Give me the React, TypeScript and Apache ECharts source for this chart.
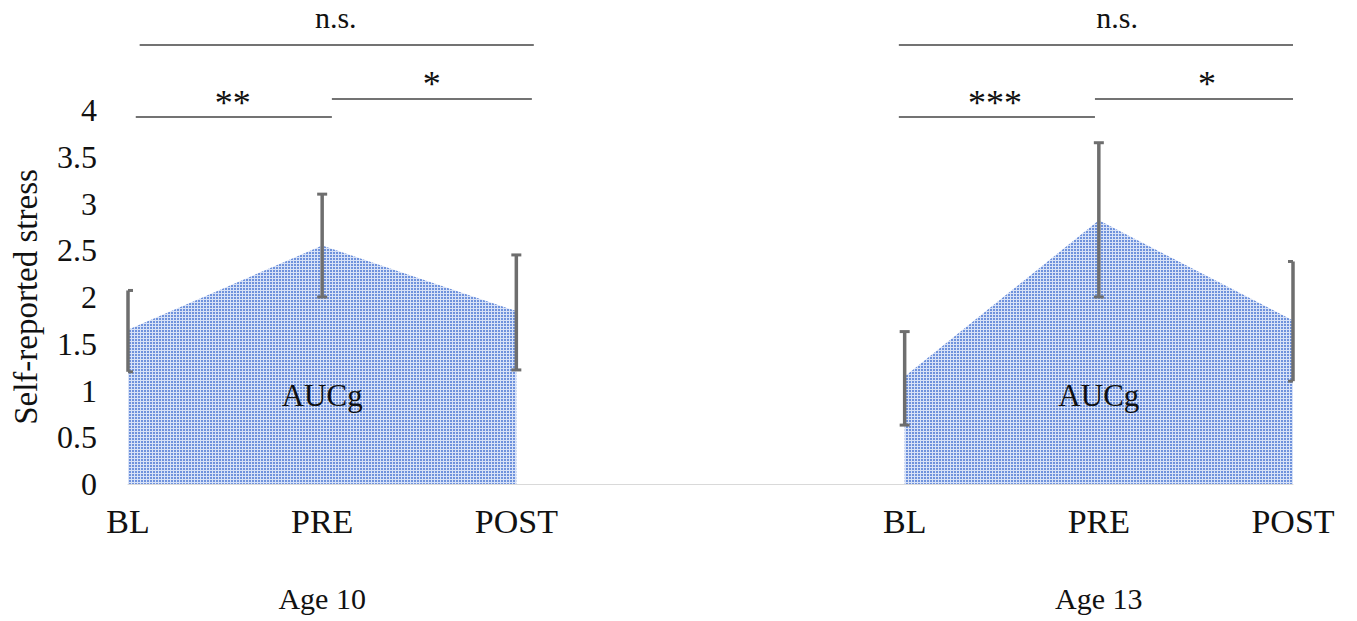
import React, { useEffect, useRef } from 'react';
import * as echarts from 'echarts';

// ---- data ----
const timepointLabels = ['BL', 'PRE', 'POST', '', 'BL', 'PRE', 'POST'];
const groupLabels = ['', 'Age 10', '', '', '', 'Age 13', ''];

const age10X = [0, 1, 2];
const age10Mean = [1.65, 2.55, 1.85];
const age10Low = [1.2, 2.0, 1.22];
const age10High = [2.07, 3.1, 2.45];

const age13X = [4, 5, 6];
const age13Mean = [1.15, 2.82, 1.75];
const age13Low = [0.63, 2.0, 1.1];
const age13High = [1.63, 3.65, 2.38];

const aucLabelX = [1, 5];
const aucLabelY = [0.95, 0.95];

// significance brackets
const bracketStart = [0.06, 0.04, 1.05, 3.97, 3.97, 4.98];
const bracketEnd = [2.09, 1.05, 2.08, 6.0, 4.98, 6.0];
const bracketLevel = [4.695, 3.925, 4.118, 4.695, 3.925, 4.118];
const bracketLabel = ['n.s.', '**', '*', 'n.s.', '***', '*'];
const bracketLabelX = [1.07, 0.54, 1.565, 5.094, 4.465, 5.557];
const bracketLabelY = [4.985, 4.08, 4.28, 4.985, 4.08, 4.28];

const Y_MIN = 0;
const Y_MAX = 4;
const Y_STEP = 0.5;
const X_MIN = 0;
const X_MAX = 6;

const SERIF = '"Liberation Serif", "Times New Roman", serif';

function makePattern(): any {
  try {
    const c = document.createElement('canvas');
    c.width = 3;
    c.height = 3;
    const ctx = c.getContext('2d');
    if (!ctx) return '#a9c0ec';
    ctx.fillStyle = '#d8e2f7';
    ctx.fillRect(0, 0, 3, 3);
    ctx.fillStyle = '#6f92dc';
    ctx.fillRect(0, 0, 2, 2);
    return { image: c.toDataURL(), repeat: 'repeat', imageWidth: 3, imageHeight: 3 };
  } catch (e) {
    return '#a9c0ec';
  }
}

export default function App() {
  const ref = useRef<HTMLDivElement>(null);

  useEffect(() => {
    if (!ref.current) return;
    const chart = echarts.init(ref.current, null, { renderer: 'svg' });
    const fill = makePattern();

    const errData = [
      ...age10X.map((x, i) => [x, age10Low[i], age10High[i]]),
      ...age13X.map((x, i) => [x, age13Low[i], age13High[i]]),
    ];
    const bracketData = bracketStart.map((s, i) => [
      s,
      bracketEnd[i],
      bracketLevel[i],
      bracketLabelX[i],
      bracketLabelY[i],
    ]);

    const areaSeries = (data: number[][]) => ({
      type: 'line',
      data,
      showSymbol: false,
      symbol: 'none',
      lineStyle: { width: 0 },
      areaStyle: { color: fill, opacity: 1 },
      z: 2,
      silent: true,
    });

    chart.setOption({
      animation: false,
      grid: { left: 128, right: 64, top: 110, bottom: 137 },
      xAxis: [
        {
          type: 'value',
          min: X_MIN,
          max: X_MAX,
          interval: 1,
          splitLine: { show: false },
          axisTick: { show: false },
          axisLine: { show: true, lineStyle: { color: '#d9d9d9', width: 1 } },
          axisLabel: {
            margin: 20,
            fontFamily: SERIF,
            fontSize: 34,
            color: '#111',
            formatter: (v: number) => timepointLabels[Math.round(v)] ?? '',
          },
        },
        {
          type: 'value',
          min: X_MIN,
          max: X_MAX,
          interval: 1,
          position: 'bottom',
          splitLine: { show: false },
          axisTick: { show: false },
          axisLine: { show: false },
          axisLabel: {
            margin: 99,
            fontFamily: SERIF,
            fontSize: 30,
            color: '#111',
            formatter: (v: number) => groupLabels[Math.round(v)] ?? '',
          },
        },
      ],
      yAxis: {
        type: 'value',
        min: Y_MIN,
        max: Y_MAX,
        interval: Y_STEP,
        name: 'Self-reported stress',
        nameLocation: 'middle',
        nameGap: 86,
        nameTextStyle: { fontFamily: SERIF, fontSize: 33, color: '#111' },
        splitLine: { show: false },
        axisTick: { show: false },
        axisLine: { show: false },
        axisLabel: {
          margin: 31,
          fontFamily: SERIF,
          fontSize: 32,
          color: '#111',
        },
      },
      series: [
        areaSeries(age10X.map((x, i) => [x, age10Mean[i]])),
        areaSeries(age13X.map((x, i) => [x, age13Mean[i]])),
        {
          type: 'custom',
          data: errData,
          z: 5,
          silent: true,
          renderItem: (params: any, api: any) => {
            const x = api.value(0);
            const top = api.coord([x, api.value(2)]);
            const bot = api.coord([x, api.value(1)]);
            const cap = 5;
            const left = x > X_MIN ? cap : 0;
            const right = x < X_MAX ? cap : 0;
            const st = { stroke: '#6e6e6e', lineWidth: 3.5 };
            const capSt = { stroke: '#6e6e6e', lineWidth: 3 };
            return {
              type: 'group',
              children: [
                { type: 'line', shape: { x1: top[0], y1: top[1], x2: bot[0], y2: bot[1] }, style: st },
                { type: 'line', shape: { x1: top[0] - left, y1: top[1], x2: top[0] + right, y2: top[1] }, style: capSt },
                { type: 'line', shape: { x1: bot[0] - left, y1: bot[1], x2: bot[0] + right, y2: bot[1] }, style: capSt },
              ],
            };
          },
        },
        {
          type: 'custom',
          data: aucLabelX.map((x, i) => [x, aucLabelY[i]]),
          z: 6,
          silent: true,
          renderItem: (params: any, api: any) => {
            const p = api.coord([api.value(0), api.value(1)]);
            return {
              type: 'text',
              x: p[0],
              y: p[1],
              style: {
                text: 'AUCg',
                fill: '#111',
                fontFamily: SERIF,
                fontSize: 31,
                align: 'center',
                verticalAlign: 'middle',
              },
            };
          },
        },
        {
          type: 'custom',
          data: bracketData,
          clip: false,
          z: 6,
          silent: true,
          renderItem: (params: any, api: any) => {
            const i = params.dataIndex;
            const p1 = api.coord([api.value(0), api.value(2)]);
            const p2 = api.coord([api.value(1), api.value(2)]);
            const pt = api.coord([api.value(3), api.value(4)]);
            const isStar = bracketLabel[i].indexOf('*') >= 0;
            return {
              type: 'group',
              children: [
                {
                  type: 'line',
                  shape: { x1: p1[0], y1: p1[1], x2: p2[0], y2: p2[1] },
                  style: { stroke: '#454545', lineWidth: 1.6 },
                },
                {
                  type: 'text',
                  x: pt[0],
                  y: pt[1],
                  style: {
                    text: bracketLabel[i],
                    fill: '#111',
                    fontFamily: SERIF,
                    fontSize: isStar ? 36 : 30,
                    align: 'center',
                    verticalAlign: 'middle',
                  },
                },
              ],
            };
          },
        },
      ],
    });

    return () => chart.dispose();
  }, []);

  return (
    <div
      ref={ref}
      style={{ position: 'fixed', left: 0, top: 0, width: 1357, height: 621, background: '#fff' }}
    />
  );
}
